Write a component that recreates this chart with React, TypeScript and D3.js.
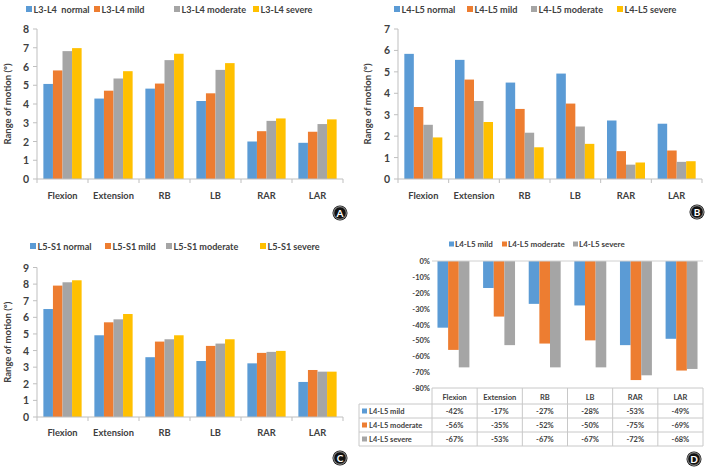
import React from 'react';
import * as d3 from 'd3';

const categories = ['Flexion', 'Extension', 'RB', 'LB', 'RAR', 'LAR'];
const colors = ['#5B9BD5', '#ED7D31', '#A5A5A5', '#FFC000'];

// Panel A: L3-L4
const l34Names = ['L3-L4  normal', 'L3-L4 mild', 'L3-L4 moderate', 'L3-L4 severe'];
const l34Normal = [5.07, 4.29, 4.82, 4.16, 2.0, 1.93];
const l34Mild = [5.79, 4.71, 5.09, 4.57, 2.55, 2.52];
const l34Moderate = [6.82, 5.36, 6.34, 5.82, 3.1, 2.93];
const l34Severe = [6.98, 5.75, 6.68, 6.18, 3.23, 3.18];

// Panel B: L4-L5
const l45Names = ['L4-L5 normal', 'L4-L5 mild', 'L4-L5 moderate', 'L4-L5 severe'];
const l45Normal = [5.84, 5.56, 4.5, 4.92, 2.73, 2.58];
const l45Mild = [3.36, 4.64, 3.27, 3.52, 1.3, 1.33];
const l45Moderate = [2.53, 3.64, 2.16, 2.45, 0.67, 0.8];
const l45Severe = [1.94, 2.66, 1.48, 1.64, 0.77, 0.83];

// Panel C: L5-S1
const l5s1Names = ['L5-S1 normal', 'L5-S1 mild', 'L5-S1 moderate', 'L5-S1 severe'];
const l5s1Normal = [6.5, 4.92, 3.6, 3.37, 3.23, 2.11];
const l5s1Mild = [7.91, 5.7, 4.54, 4.28, 3.86, 2.83];
const l5s1Moderate = [8.11, 5.88, 4.68, 4.42, 3.92, 2.73];
const l5s1Severe = [8.23, 6.2, 4.92, 4.68, 3.98, 2.73];

// Panel D: % change at L4-L5
const changeNames = ['L4-L5 mild', 'L4-L5 moderate', 'L4-L5 severe'];
const changeMild = [-42, -17, -27, -28, -53, -49];
const changeModerate = [-56, -35, -52, -50, -75, -69];
const changeSevere = [-67, -53, -67, -67, -72, -68];
const changeTicks = [0, -10, -20, -30, -40, -50, -60, -70, -80];

const FONT = 'Lato, "Open Sans", sans-serif';
const TEXT = '#404040';
const AXIS = '#bfbfbf';

type Legend = { x: number; label: string }[];

function Badge({ x, y, letter }: { x: number; y: number; letter: string }) {
  return (
    <g>
      <circle cx={x} cy={y} r={7.5} fill="#111" />
      <circle cx={x} cy={y} r={6.3} fill="none" stroke="#fff" strokeWidth={0.6} />
      <text x={x} y={y + 3.6} textAnchor="middle" fontSize={10} fontWeight={700} fill="#fff" fontFamily={FONT}>
        {letter}
      </text>
    </g>
  );
}

function GroupedBars({
  series, legend, legendY, x0, x1, yBase, yTop, yMax, catY, titleX,
}: {
  series: number[][]; legend: Legend; legendY: number;
  x0: number; x1: number; yBase: number; yTop: number; yMax: number; catY: number; titleX: number;
}) {
  const x = d3.scaleBand().domain(categories).range([x0, x1]).paddingInner(0.25).paddingOuter(0.125);
  const xs = d3.scaleBand().domain(d3.range(series.length).map(String)).range([0, x.bandwidth()]);
  const y = d3.scaleLinear().domain([0, yMax]).range([yBase, yTop]);
  const step = x.step();
  return (
    <g fontFamily={FONT}>
      {legend.map((l, i) => (
        <g key={i}>
          <rect x={l.x} y={legendY - 3} width={6} height={6} fill={colors[i]} />
          <text x={l.x + 7.5} y={legendY + 3.5} fontSize={9.1} fontWeight={700} fill={TEXT} style={{ whiteSpace: 'pre' }}>{l.label}</text>
        </g>
      ))}
      {series.map((s, si) =>
        s.map((v, ci) => (
          <rect key={`${si}-${ci}`} x={(x(categories[ci]) ?? 0) + (xs(String(si)) ?? 0)} y={y(v)}
            width={xs.bandwidth()} height={y(0) - y(v)} fill={colors[si]} />
        )),
      )}
      <line x1={x0} x2={x0} y1={yTop} y2={yBase} stroke={AXIS} />
      {y.ticks(yMax).map((t) => (
        <g key={t}>
          <line x1={x0 - 4} x2={x0} y1={y(t)} y2={y(t)} stroke={AXIS} />
          <text x={x0 - 8} y={y(t) + 4} textAnchor="end" fontSize={10.5} fontWeight={700} fill={TEXT}>{t}</text>
        </g>
      ))}
      <line x1={x0} x2={x1} y1={yBase} y2={yBase} stroke={AXIS} />
      {d3.range(categories.length + 1).map((i) => (
        <line key={i} x1={x0 + i * step} x2={x0 + i * step} y1={yBase} y2={yBase + 4} stroke={AXIS} />
      ))}
      {categories.map((c) => (
        <text key={c} x={(x(c) ?? 0) + x.bandwidth() / 2} y={catY} textAnchor="middle" fontSize={9.3} fontWeight={700} fill={TEXT}>{c}</text>
      ))}
      <text transform={`translate(${titleX},${(yBase + yTop) / 2}) rotate(-90)`} textAnchor="middle" fontSize={9.5} fontWeight={700} fill={TEXT}>
        Range of motion (°)
      </text>
    </g>
  );
}

function ChangePanel() {
  const series = [changeMild, changeModerate, changeSevere];
  const x0 = 432, x1 = 703, y0 = 261, yMin = 388;
  const x = d3.scaleBand().domain(categories).range([x0, x1]).paddingInner(0.3).paddingOuter(0.12);
  const xs = d3.scaleBand().domain(['0', '1', '2']).range([0, x.bandwidth()]);
  const y = d3.scaleLinear().domain([0, -80]).range([y0, yMin]);
  const step = (x1 - x0) / categories.length;
  const rowTops = [388, 404, 418, 432, 446];
  const legendX = [449, 502, 573];
  return (
    <g fontFamily={FONT}>
      {changeNames.map((n, i) => (
        <g key={n}>
          <rect x={legendX[i]} y={241.5} width={5} height={5} fill={colors[i]} />
          <text x={legendX[i] + 6} y={247} fontSize={8} fontWeight={700} fill={TEXT}>{n}</text>
        </g>
      ))}
      {series.map((s, si) =>
        s.map((v, ci) => (
          <rect key={`${si}-${ci}`} x={(x(categories[ci]) ?? 0) + (xs(String(si)) ?? 0)} y={y(0)}
            width={xs.bandwidth()} height={y(v) - y(0)} fill={colors[si]} />
        )),
      )}
      <line x1={x0} x2={x1} y1={y0} y2={y0} stroke="#d0d0d0" />
      {changeTicks.map((t) => (
        <text key={t} x={x0 - 2} y={y(t) + 3} textAnchor="end" fontSize={7.5} fontWeight={700} fill={TEXT}>{t}%</text>
      ))}
      {/* table grid */}
      <line x1={x0} x2={x1} y1={rowTops[0]} y2={rowTops[0]} stroke="#c8c8c8" />
      {rowTops.slice(1).map((r) => (
        <line key={r} x1={359} x2={x1} y1={r} y2={r} stroke="#c8c8c8" />
      ))}
      <line x1={359} x2={359} y1={rowTops[1]} y2={rowTops[4]} stroke="#c8c8c8" />
      {d3.range(categories.length + 1).map((i) => (
        <line key={i} x1={x0 + i * step} x2={x0 + i * step} y1={rowTops[0]} y2={rowTops[4]} stroke="#c8c8c8" />
      ))}
      {categories.map((c, i) => (
        <text key={c} x={x0 + (i + 0.5) * step} y={399.5} textAnchor="middle" fontSize={7.5} fontWeight={700} fill={TEXT}>{c}</text>
      ))}
      {series.map((s, si) => (
        <g key={si}>
          <rect x={362} y={rowTops[si + 1] + 4.5} width={5} height={5} fill={colors[si]} />
          <text x={369} y={rowTops[si + 1] + 10} fontSize={7.5} fontWeight={700} fill={TEXT}>{changeNames[si]}</text>
          {s.map((v, ci) => (
            <text key={ci} x={x0 + (ci + 0.5) * step} y={rowTops[si + 1] + 10} textAnchor="middle" fontSize={7.5} fontWeight={700} fill={TEXT}>{v}%</text>
          ))}
        </g>
      ))}
    </g>
  );
}

export default function App() {
  return (
    <svg width={709} height={467} style={{ position: 'absolute', left: 0, top: 0, background: '#fff' }}>
      <rect width={709} height={467} fill="#fff" />
      <GroupedBars series={[l34Normal, l34Mild, l34Moderate, l34Severe]}
        legend={[{ x: 26, label: l34Names[0] }, { x: 94, label: l34Names[1] }, { x: 174, label: l34Names[2] }, { x: 253, label: l34Names[3] }]}
        legendY={9} x0={37} x1={343} yBase={179} yTop={29} yMax={8} catY={199} titleX={11} />
      <GroupedBars series={[l45Normal, l45Mild, l45Moderate, l45Severe]}
        legend={[{ x: 394, label: l45Names[0] }, { x: 467, label: l45Names[1] }, { x: 531, label: l45Names[2] }, { x: 617, label: l45Names[3] }]}
        legendY={9} x0={398} x1={702} yBase={179} yTop={29} yMax={7} catY={199} titleX={371} />
      <GroupedBars series={[l5s1Normal, l5s1Mild, l5s1Moderate, l5s1Severe]}
        legend={[{ x: 30, label: l5s1Names[0] }, { x: 105, label: l5s1Names[1] }, { x: 166, label: l5s1Names[2] }, { x: 260, label: l5s1Names[3] }]}
        legendY={246} x0={37} x1={343} yBase={417} yTop={267.5} yMax={9} catY={436} titleX={11} />
      <ChangePanel />
      <Badge x={340} y={213} letter="A" />
      <Badge x={697} y={212} letter="B" />
      <Badge x={340} y={458} letter="C" />
      <Badge x={694} y={459} letter="D" />
    </svg>
  );
}
